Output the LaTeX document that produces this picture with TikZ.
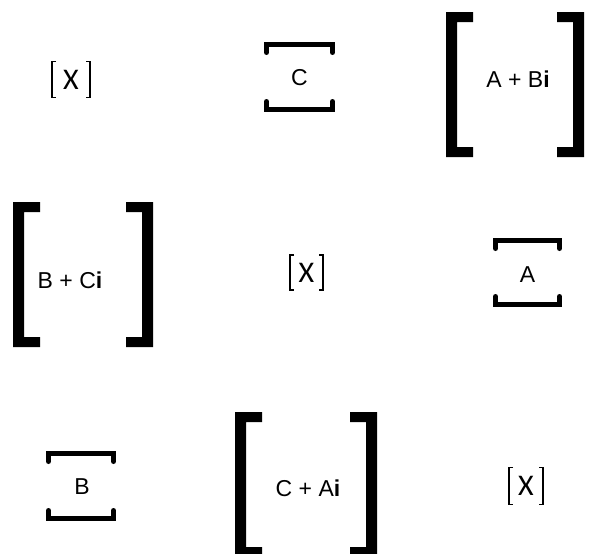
\documentclass[tikz,border=0pt]{standalone}
\usepackage{fontspec}
\setmainfont{Liberation Sans}
\newfontfamily\xfont{Carlito}
\tikzset{
  lbl/.style={inner sep=0pt, font=\fontsize{23}{23}\selectfont},
  xlbl/.style={inner sep=0pt, font=\xfont\fontsize{30}{30}\selectfont},
  thinbrk/.style={line width=1.3pt},
  midbrk/.style={line width=5pt, line cap=round, line join=miter},
  bigbrk/.style={fill=black, draw=none}
}
% big bracket pair: left x, right x, top y, bottom y (image coords)
\newcommand\BigBrk[4]{%
  \fill[bigbrk] (#1,#3) -- ++(27,0) -- ++(0,10) -- ++(-16,0) -- ($(#1,#4)+(11,-10)$) -- ++(16,0) -- ++(0,10) -- (#1,#4) -- cycle;
  \fill[bigbrk] (#2,#3) -- ++(-27,0) -- ++(0,10) -- ++(16,0) -- ($(#2,#4)+(-11,-10)$) -- ++(-16,0) -- ++(0,10) -- (#2,#4) -- cycle;
}
% medium box corners: left, right, top, bottom
\newcommand\MidBrk[4]{%
  \draw[midbrk] ($(#1,#3)+(2.5,10.5)$) -- ($(#1,#3)+(2.5,2.5)$) -- ($(#2,#3)+(-2.5,2.5)$) -- ($(#2,#3)+(-2.5,10.5)$);
  \draw[midbrk] ($(#1,#4)+(2.5,-10.5)$) -- ($(#1,#4)+(2.5,-2.5)$) -- ($(#2,#4)+(-2.5,-2.5)$) -- ($(#2,#4)+(-2.5,-10.5)$);
}
% thin bracket around a node: node name, half width, half height
\newcommand\ThinBrk[3]{%
  \draw[thinbrk] ($(#1.center)+(-#2+4,-#3)$) -- ++(-4,0) -- ++(0,2*#3) -- ++(4,0);
  \draw[thinbrk] ($(#1.center)+(#2-4,-#3)$) -- ++(4,0) -- ++(0,2*#3) -- ++(-4,0);
}
\usetikzlibrary{calc}
\begin{document}
\begin{tikzpicture}[x=1pt,y=-1pt]
\useasboundingbox (0,0) rectangle (589,554);
% row 1
\node[xlbl] (x1) at (71,79.5) {X};
\ThinBrk{x1}{19}{18}
\node[lbl] (c) at (299.5,78) {C};
\MidBrk{264}{335}{42}{112}
\node[lbl] (abi) at (518,79) {A + B\textbf{i}};
\BigBrk{446}{584}{12}{157}
% row 2
\node[lbl] (bci) at (70,280) {B + C\textbf{i}};
\BigBrk{13}{153}{202}{347}
\node[xlbl] (x2) at (306.5,272.5) {X};
\ThinBrk{x2}{16.5}{17.5}
\node[lbl] (a) at (527.5,275) {A};
\MidBrk{493}{562}{238}{307}
% row 3
\node[lbl] (b) at (82,487) {B};
\MidBrk{46}{116}{451}{521}
\node[lbl] (cai) at (308,488) {C + A\textbf{i}};
\BigBrk{235}{377}{412}{557}
\node[xlbl] (x3) at (526,486) {X};
\ThinBrk{x3}{17}{18.5}
\end{tikzpicture}
\end{document}
